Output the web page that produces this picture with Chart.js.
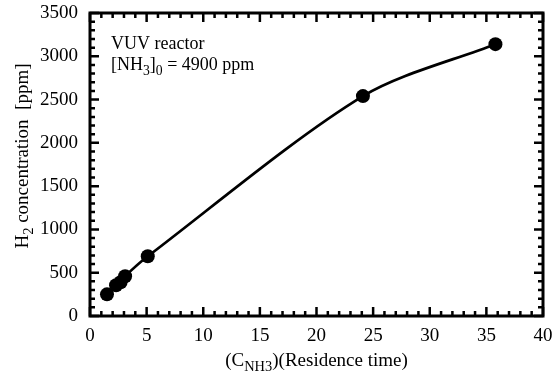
<!DOCTYPE html>
<html>
<head>
<meta charset="utf-8">
<script src="https://cdn.jsdelivr.net/npm/chart.js@4.4.0/dist/chart.umd.min.js"></script>
<style>
  html, body { margin:0; padding:0; background:#fff; }
  #wrap { width:560px; height:378px; }
</style>
</head>
<body>
<div id="wrap"><canvas id="h2Chart" width="560" height="378"></canvas></div>
<script>
// data
const residence = [1.5, 2.3, 2.7, 3.1, 5.1, 24.1, 35.8];
const h2ppm = [250, 355, 390, 460, 690, 2540, 3140];

const xMin = 0, xMax = 40, xStep = 5, xMinor = 1;
const yMin = 0, yMax = 3500, yStep = 500, yMinor = 100;

const FONT = '"Liberation Serif", "Times New Roman", serif';
const SUB = 0.76;

// text with subscripts: parts = [[text, isSub], ...]
function richWidth(ctx, parts, size){
  let w = 0;
  parts.forEach(p => {
    ctx.font = (p[1] ? size*SUB : size) + 'px ' + FONT;
    w += ctx.measureText(p[0]).width;
  });
  return w;
}
function drawRich(ctx, parts, x, y, size, align){
  let w = richWidth(ctx, parts, size);
  let cx = align === 'center' ? x - w/2 : x;
  ctx.textBaseline = 'alphabetic';
  ctx.textAlign = 'left';
  parts.forEach(p => {
    ctx.font = (p[1] ? size*SUB : size) + 'px ' + FONT;
    ctx.fillText(p[0], cx, p[1] ? y + size*0.28 : y);
    cx += ctx.measureText(p[0]).width;
  });
}

// frame, inward ticks on all four sides, titles and note
const framePlugin = {
  id: 'framePlugin',
  afterDraw(chart){
    const ctx = chart.ctx;
    const a = chart.chartArea;
    const xs = chart.scales.x, ys = chart.scales.y;
    ctx.save();
    ctx.strokeStyle = '#000';
    ctx.fillStyle = '#000';

    ctx.lineWidth = 2.5;
    for(let v = xMin; v <= xMax + 1e-9; v += xMinor){
      const px = xs.getPixelForValue(v);
      const len = (Math.round(v) % xStep === 0) ? 9 : 5;
      ctx.beginPath();
      ctx.moveTo(px, a.bottom); ctx.lineTo(px, a.bottom - len);
      ctx.moveTo(px, a.top); ctx.lineTo(px, a.top + len);
      ctx.stroke();
    }
    for(let v = yMin; v <= yMax + 1e-9; v += yMinor){
      const py = ys.getPixelForValue(v);
      const len = (Math.round(v) % yStep === 0) ? 9 : 5;
      ctx.beginPath();
      ctx.moveTo(a.left, py); ctx.lineTo(a.left + len, py);
      ctx.moveTo(a.right, py); ctx.lineTo(a.right - len, py);
      ctx.stroke();
    }

    ctx.lineWidth = 3;
    ctx.strokeRect(a.left, a.top, a.right - a.left, a.bottom - a.top);

    // x title
    drawRich(ctx, [['(C', false], ['NH3', true], [')(Residence time)', false]],
      (a.left + a.right)/2, 366, 19, 'center');

    // y title
    ctx.save();
    ctx.translate(28, 156);
    ctx.rotate(-Math.PI/2);
    drawRich(ctx, [['H', false], ['2', true], [' concentration  [ppm]', false]], 0, 0, 19, 'center');
    ctx.restore();

    // note
    drawRich(ctx, [['VUV reactor', false]], a.left + 21, a.top + 36, 18, 'left');
    drawRich(ctx, [['[NH', false], ['3', true], [']', false], ['0', true], [' = 4900 ppm', false]],
      a.left + 21, a.top + 57, 18, 'left');
    ctx.restore();
  }
};

const ctx = document.getElementById('h2Chart').getContext('2d');
const h2Chart = new Chart(ctx, {
  type: 'line',
  data: {
    datasets: [{
      data: residence.map((r, i) => ({ x: r, y: h2ppm[i] })),
      borderColor: '#000',
      backgroundColor: '#000',
      borderWidth: 2.7,
      pointRadius: 7,
      pointBackgroundColor: '#000',
      pointBorderWidth: 0,
      tension: 0.3,
      fill: false
    }]
  },
  options: {
    responsive: false,
    animation: false,
    layout: { padding: { left: 0, right: 17, top: 13, bottom: 0 } },
    plugins: { legend: { display: false }, tooltip: { enabled: false } },
    scales: {
      x: {
        type: 'linear', min: xMin, max: xMax,
        grid: { display: false, drawTicks: false },
        border: { display: false },
        ticks: { stepSize: xStep, color: '#000', padding: 9, maxRotation: 0,
                 font: { family: FONT, size: 19 },
                 callback: v => String(v) },
        afterFit(scale){
          scale.height = 62;
          scale.paddingLeft = 0; scale.paddingRight = 0;
        }
      },
      y: {
        type: 'linear', min: yMin, max: yMax,
        grid: { display: false, drawTicks: false },
        border: { display: false },
        ticks: { stepSize: yStep, color: '#000', padding: 12,
                 font: { family: FONT, size: 19 },
                 callback: v => String(v) },
        afterFit(scale){
          scale.width = 90;
          scale.paddingTop = 0; scale.paddingBottom = 0;
        }
      }
    }
  },
  plugins: [framePlugin]
});
</script>
</body>
</html>
